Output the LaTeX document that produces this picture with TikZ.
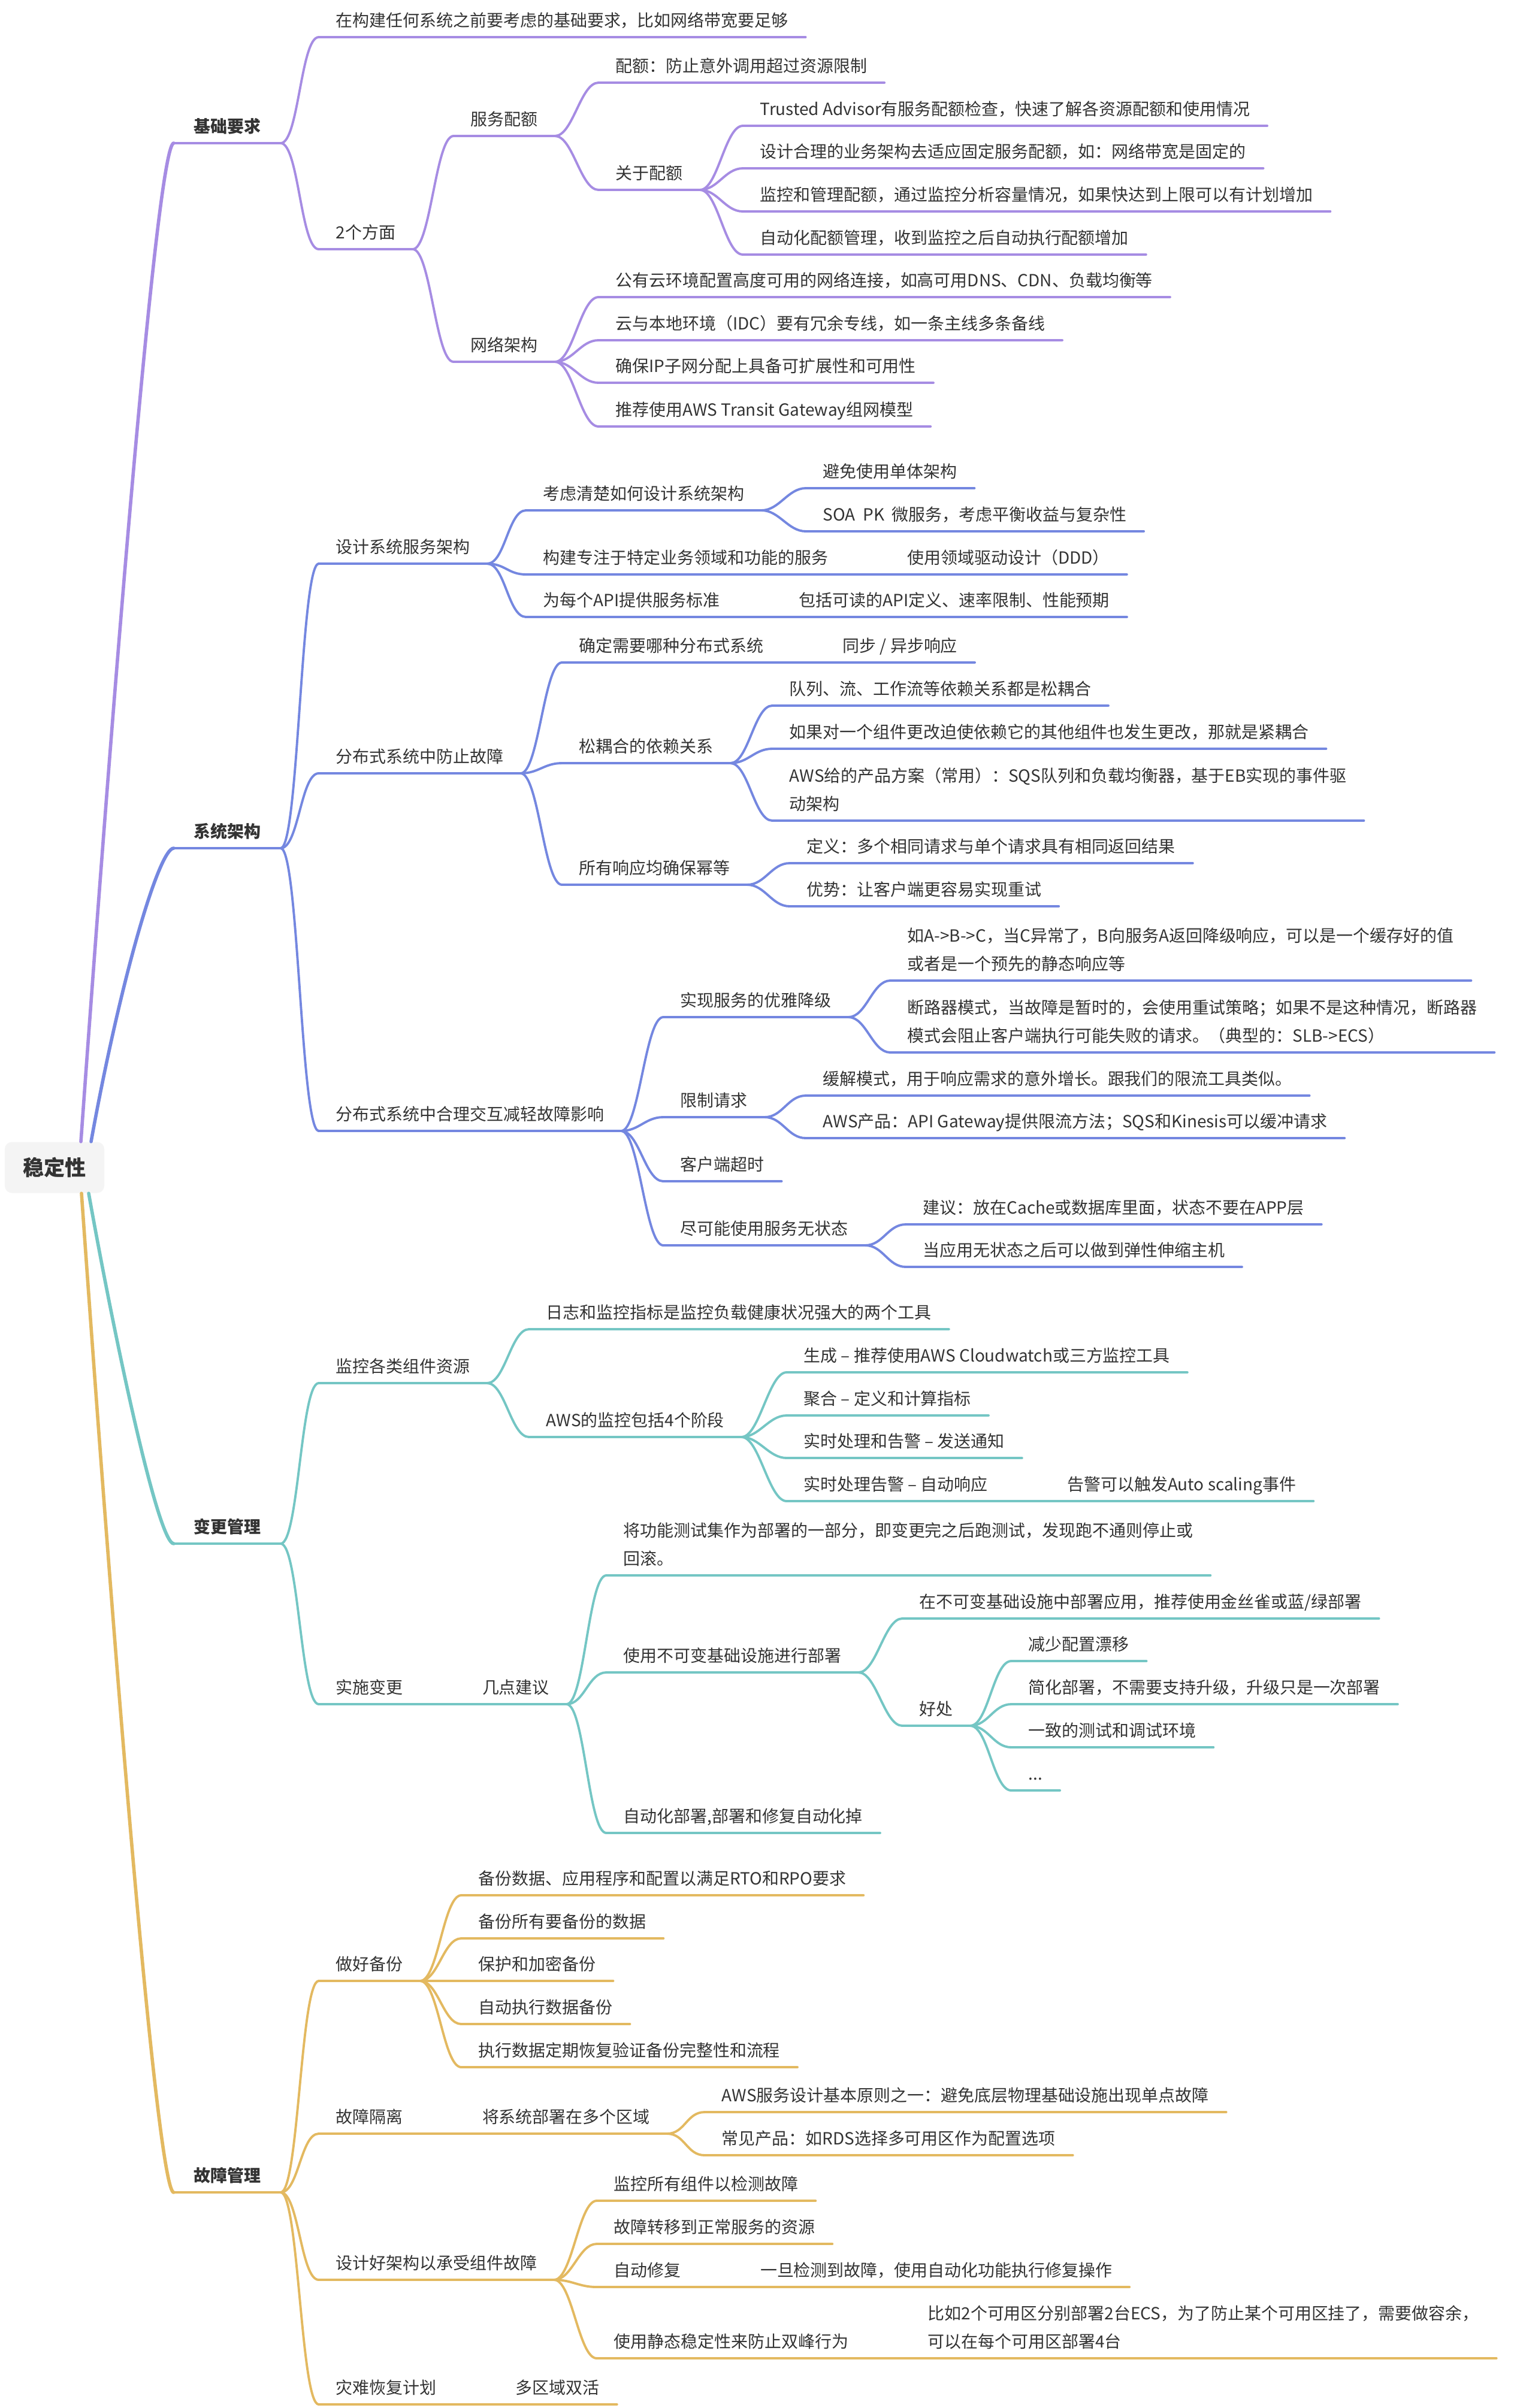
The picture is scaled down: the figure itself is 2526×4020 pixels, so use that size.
\documentclass[tikz,border=0pt]{standalone}
\usepackage{fontspec}
\setmainfont{Noto Sans CJK SC}
\usetikzlibrary{positioning}

\definecolor{txt}{HTML}{333333}
\definecolor{rootfill}{HTML}{F4F4F4}
\definecolor{lineA}{RGB}{166,140,227}
\definecolor{lineB}{RGB}{116,135,224}
\definecolor{lineC}{RGB}{116,198,196}
\definecolor{lineD}{RGB}{227,185,96}
\colorlet{br}{lineA}

\newcommand{\twoline}[2]{\begin{tabular}[b]{@{}l@{}}#1\\#2\end{tabular}}

\tikzset{
  uline/.style={draw=br, line width=1.3pt, line cap=round},
  link/.style={draw=br, line width=1.1pt, line cap=round},
  trunk/.style={draw=br, line width=1.6pt, line cap=round},
  topic/.style={anchor=south west, inner xsep=0.28cm, inner ysep=0.12cm, text depth=0.05cm,
    text=txt, font=\fontsize{7.95pt}{13.4pt}\selectfont,
    append after command={(\tikzlastnode.south west) edge[uline] (\tikzlastnode.south east)}},
  major/.style={topic, minimum width=1.77cm, font=\fontsize{7.95pt}{13.4pt}\selectfont\bfseries},
  rootbox/.style={fill=rootfill, rounded corners=0.12cm, minimum width=1.66cm, minimum height=0.85cm,
    text=txt, font=\fontsize{10pt}{12pt}\selectfont\bfseries},
}

\begin{document}
\begin{tikzpicture}[x=0.01cm, y=-0.01cm]
\path[use as bounding box, fill=white] (0,0) rectangle (2526,4020);

\node[rootbox] (root) at (91,1949) {稳定性};
\coordinate (rA) at ([xshift=0.44cm]root.north);
\coordinate (rB) at ([xshift=0.61cm]root.north);
\coordinate (rC) at ([xshift=0.57cm]root.south);
\coordinate (rD) at ([xshift=0.45cm]root.south);

% 基础要求
\begin{scope}
\colorlet{br}{lineA}
\node[major] (basic) at (290,239) {基础要求};
\draw[trunk] (rA) .. controls (200,1000) and (265,239) .. (basic.south west);
\node[topic] (basicpre) at (532,62) {在构建任何系统之前要考虑的基础要求，比如网络带宽要足够};
\node[topic] (aspects) at (532,416) {2个方面};
\node[topic] (quota) at (757,227) {服务配额};
\node[topic] (quotadef) at (999,138) {配额：防止意外调用超过资源限制};
\node[topic] (quotaabout) at (999,317) {关于配额};
\node[topic] (qta) at (1240,210) {Trusted Advisor有服务配额检查，快速了解各资源配额和使用情况};
\node[topic] (qtb) at (1240,281) {设计合理的业务架构去适应固定服务配额，如：网络带宽是固定的};
\node[topic] (qtc) at (1240,353) {监控和管理配额，通过监控分析容量情况，如果快达到上限可以有计划增加};
\node[topic] (qtd) at (1240,425) {自动化配额管理，收到监控之后自动执行配额增加};
\node[topic] (network) at (757,604) {网络架构};
\node[topic] (neta) at (999,496) {公有云环境配置高度可用的网络连接，如高可用DNS、CDN、负载均衡等};
\node[topic] (netb) at (999,568) {云与本地环境（IDC）要有冗余专线，如一条主线多条备线};
\node[topic] (netc) at (999,639) {确保IP子网分配上具备可扩展性和可用性};
\node[topic] (netd) at (999,712) {推荐使用AWS Transit Gateway组网模型};
\foreach \c in {basicpre,aspects}
  \draw[link] (basic.south east) .. controls +(30,0) and +(-30,0) .. (\c.south west);
\foreach \c in {quota,network}
  \draw[link] (aspects.south east) .. controls +(30,0) and +(-30,0) .. (\c.south west);
\foreach \c in {quotadef,quotaabout}
  \draw[link] (quota.south east) .. controls +(30,0) and +(-30,0) .. (\c.south west);
\foreach \c in {qta,qtb,qtc,qtd}
  \draw[link] (quotaabout.south east) .. controls +(30,0) and +(-30,0) .. (\c.south west);
\foreach \c in {neta,netb,netc,netd}
  \draw[link] (network.south east) .. controls +(30,0) and +(-30,0) .. (\c.south west);
\end{scope}

% 系统架构
\begin{scope}
\colorlet{br}{lineB}
\node[major] (arch) at (290,1416) {系统架构};
\draw[trunk] (rB) .. controls (200,1640) and (265,1416) .. (arch.south west);
\node[topic] (svc) at (532,941) {设计系统服务架构};
\node[topic] (svcthink) at (878,852) {考虑清楚如何设计系统架构};
\node[topic] (svcmono) at (1345,815) {避免使用单体架构};
\node[topic] (svcsoa) at (1345,887) {SOA~~PK~~微服务，考虑平衡收益与复杂性};
\node[topic] (svcdomain) at (878,959) {构建专注于特定业务领域和功能的服务};
\node[topic, right=0.75cm of svcdomain.south east, anchor=south west] (svcddd) {使用领域驱动设计（DDD）};
\node[topic] (svcapi) at (878,1030) {为每个API提供服务标准};
\node[topic, right=0.75cm of svcapi.south east, anchor=south west] (svcapistd) {包括可读的API定义、速率限制、性能预期};
\node[topic] (fault) at (532,1291) {分布式系统中防止故障};
\node[topic] (faultkind) at (938,1106) {确定需要哪种分布式系统};
\node[topic, right=0.75cm of faultkind.south east, anchor=south west] (faultsync) {同步 / 异步响应};
\node[topic] (faultloose) at (938,1274) {松耦合的依赖关系};
\node[topic] (loosea) at (1289,1178) {队列、流、工作流等依赖关系都是松耦合};
\node[topic] (looseb) at (1289,1250) {如果对一个组件更改迫使依赖它的其他组件也发生更改，那就是紧耦合};
\node[topic] (loosec) at (1289,1370) {\twoline{AWS给的产品方案（常用）：SQS队列和负载均衡器，基于EB实现的事件驱}{动架构}};
\node[topic] (faultidem) at (938,1477) {所有响应均确保幂等};
\node[topic] (idemdef) at (1318,1441) {定义：多个相同请求与单个请求具有相同返回结果};
\node[topic] (idemgood) at (1318,1513) {优势：让客户端更容易实现重试};
\node[topic] (inter) at (532,1888) {分布式系统中合理交互减轻故障影响};
\node[topic] (degrade) at (1107,1698) {实现服务的优雅降级};
\node[topic] (degradea) at (1486,1637) {\twoline{如A->B->C，当C异常了，B向服务A返回降级响应，可以是一个缓存好的值}{或者是一个预先的静态响应等}};
\node[topic] (degradeb) at (1486,1757) {\twoline{断路器模式，当故障是暂时的，会使用重试策略；如果不是这种情况，断路器}{模式会阻止客户端执行可能失败的请求。（典型的：SLB->ECS）}};
\node[topic] (limit) at (1107,1865) {限制请求};
\node[topic] (limita) at (1345,1829) {缓解模式，用于响应需求的意外增长。跟我们的限流工具类似。};
\node[topic] (limitb) at (1345,1900) {AWS产品：API Gateway提供限流方法；SQS和Kinesis可以缓冲请求};
\node[topic] (timeout) at (1107,1972) {客户端超时};
\node[topic] (stateless) at (1107,2079) {尽可能使用服务无状态};
\node[topic] (statelessa) at (1512,2044) {建议：放在Cache或数据库里面，状态不要在APP层};
\node[topic] (statelessb) at (1512,2115) {当应用无状态之后可以做到弹性伸缩主机};
\foreach \c in {svc,fault,inter}
  \draw[link] (arch.south east) .. controls +(30,0) and +(-30,0) .. (\c.south west);
\foreach \c in {svcthink,svcdomain,svcapi}
  \draw[link] (svc.south east) .. controls +(30,0) and +(-30,0) .. (\c.south west);
\foreach \c in {svcmono,svcsoa}
  \draw[link] (svcthink.south east) .. controls +(30,0) and +(-30,0) .. (\c.south west);
\draw[uline] (svcdomain.south east) -- (svcddd.south west);
\draw[uline] (svcapi.south east) -- (svcapistd.south west);
\foreach \c in {faultkind,faultloose,faultidem}
  \draw[link] (fault.south east) .. controls +(30,0) and +(-30,0) .. (\c.south west);
\draw[uline] (faultkind.south east) -- (faultsync.south west);
\foreach \c in {loosea,looseb,loosec}
  \draw[link] (faultloose.south east) .. controls +(30,0) and +(-30,0) .. (\c.south west);
\foreach \c in {idemdef,idemgood}
  \draw[link] (faultidem.south east) .. controls +(30,0) and +(-30,0) .. (\c.south west);
\foreach \c in {degrade,limit,timeout,stateless}
  \draw[link] (inter.south east) .. controls +(30,0) and +(-30,0) .. (\c.south west);
\foreach \c in {degradea,degradeb}
  \draw[link] (degrade.south east) .. controls +(30,0) and +(-30,0) .. (\c.south west);
\foreach \c in {limita,limitb}
  \draw[link] (limit.south east) .. controls +(30,0) and +(-30,0) .. (\c.south west);
\foreach \c in {statelessa,statelessb}
  \draw[link] (stateless.south east) .. controls +(30,0) and +(-30,0) .. (\c.south west);
\end{scope}

% 变更管理
\begin{scope}
\colorlet{br}{lineC}
\node[major] (change) at (290,2577) {变更管理};
\draw[trunk] (rC) .. controls (196,2260) and (265,2577) .. (change.south west);
\node[topic] (monitor) at (532,2309) {监控各类组件资源};
\node[topic] (monlog) at (883,2219) {日志和监控指标是监控负载健康状况强大的两个工具};
\node[topic] (monaws) at (883,2399) {AWS的监控包括4个阶段};
\node[topic] (mongen) at (1313,2291) {生成 – 推荐使用AWS Cloudwatch或三方监控工具};
\node[topic] (monagg) at (1313,2363) {聚合 – 定义和计算指标};
\node[topic] (monalert) at (1313,2434) {实时处理和告警 – 发送通知};
\node[topic] (monauto) at (1313,2506) {实时处理告警 – 自动响应};
\node[topic, right=0.75cm of monauto.south east, anchor=south west] (monscale) {告警可以触发Auto scaling事件};
\node[topic] (deploy) at (532,2845) {实施变更};
\node[topic, right=0.75cm of deploy.south east, anchor=south west] (deploytips) {几点建议};
\node[topic] (tiptest) at (1012,2630) {\twoline{将功能测试集作为部署的一部分，即变更完之后跑测试，发现跑不通则停止或}{回滚。}};
\node[topic] (tipimm) at (1012,2792) {使用不可变基础设施进行部署};
\node[topic] (immapp) at (1506,2702) {在不可变基础设施中部署应用，推荐使用金丝雀或蓝/绿部署};
\node[topic] (immgood) at (1506,2881) {好处};
\node[topic] (gooda) at (1688,2773) {减少配置漂移};
\node[topic] (goodb) at (1688,2845) {简化部署，不需要支持升级，升级只是一次部署};
\node[topic] (goodc) at (1688,2917) {一致的测试和调试环境};
\node[topic] (goodd) at (1688,2989) {...};
\node[topic] (tipauto) at (1012,3060) {自动化部署,部署和修复自动化掉};
\foreach \c in {monitor,deploy}
  \draw[link] (change.south east) .. controls +(30,0) and +(-30,0) .. (\c.south west);
\foreach \c in {monlog,monaws}
  \draw[link] (monitor.south east) .. controls +(30,0) and +(-30,0) .. (\c.south west);
\foreach \c in {mongen,monagg,monalert,monauto}
  \draw[link] (monaws.south east) .. controls +(30,0) and +(-30,0) .. (\c.south west);
\draw[uline] (monauto.south east) -- (monscale.south west);
\draw[uline] (deploy.south east) -- (deploytips.south west);
\foreach \c in {tiptest,tipimm,tipauto}
  \draw[link] (deploytips.south east) .. controls +(30,0) and +(-30,0) .. (\c.south west);
\foreach \c in {immapp,immgood}
  \draw[link] (tipimm.south east) .. controls +(30,0) and +(-30,0) .. (\c.south west);
\foreach \c in {gooda,goodb,goodc,goodd}
  \draw[link] (immgood.south east) .. controls +(30,0) and +(-30,0) .. (\c.south west);
\end{scope}

% 故障管理
\begin{scope}
\colorlet{br}{lineD}
\node[major] (failure) at (290,3660) {故障管理};
\draw[trunk] (rD) .. controls (200,2900) and (265,3660) .. (failure.south west);
\node[topic] (backup) at (532,3307) {做好备份};
\node[topic] (bka) at (770,3164) {备份数据、应用程序和配置以满足RTO和RPO要求};
\node[topic] (bkb) at (770,3236) {备份所有要备份的数据};
\node[topic] (bkc) at (770,3307) {保护和加密备份};
\node[topic] (bkd) at (770,3379) {自动执行数据备份};
\node[topic] (bke) at (770,3451) {执行数据定期恢复验证备份完整性和流程};
\node[topic] (isolate) at (532,3562) {故障隔离};
\node[topic, right=0.75cm of isolate.south east, anchor=south west] (isolatemulti) {将系统部署在多个区域};
\node[topic] (isoa) at (1176,3526) {AWS服务设计基本原则之一：避免底层物理基础设施出现单点故障};
\node[topic] (isob) at (1176,3598) {常见产品：如RDS选择多可用区作为配置选项};
\node[topic] (resilient) at (532,3806) {设计好架构以承受组件故障};
\node[topic] (resmon) at (996,3674) {监控所有组件以检测故障};
\node[topic] (resfail) at (996,3746) {故障转移到正常服务的资源};
\node[topic] (resauto) at (996,3818) {自动修复};
\node[topic, right=0.75cm of resauto.south east, anchor=south west] (resautoop) {一旦检测到故障，使用自动化功能执行修复操作};
\node[topic] (resstatic) at (996,3937) {使用静态稳定性来防止双峰行为};
\node[topic, right=0.75cm of resstatic.south east, anchor=south west] (resstaticex) {\twoline{比如2个可用区分别部署2台ECS，为了防止某个可用区挂了，需要做容余，}{可以在每个可用区部署4台}};
\node[topic] (dr) at (532,4014) {灾难恢复计划};
\node[topic, right=0.75cm of dr.south east, anchor=south west] (drmulti) {多区域双活};
\foreach \c in {backup,isolate,resilient,dr}
  \draw[link] (failure.south east) .. controls +(30,0) and +(-30,0) .. (\c.south west);
\foreach \c in {bka,bkb,bkc,bkd,bke}
  \draw[link] (backup.south east) .. controls +(30,0) and +(-30,0) .. (\c.south west);
\draw[uline] (isolate.south east) -- (isolatemulti.south west);
\foreach \c in {isoa,isob}
  \draw[link] (isolatemulti.south east) .. controls +(30,0) and +(-30,0) .. (\c.south west);
\foreach \c in {resmon,resfail,resauto,resstatic}
  \draw[link] (resilient.south east) .. controls +(30,0) and +(-30,0) .. (\c.south west);
\draw[uline] (resauto.south east) -- (resautoop.south west);
\draw[uline] (resstatic.south east) -- (resstaticex.south west);
\draw[uline] (dr.south east) -- (drmulti.south west);
\end{scope}
\end{tikzpicture}
\end{document}
